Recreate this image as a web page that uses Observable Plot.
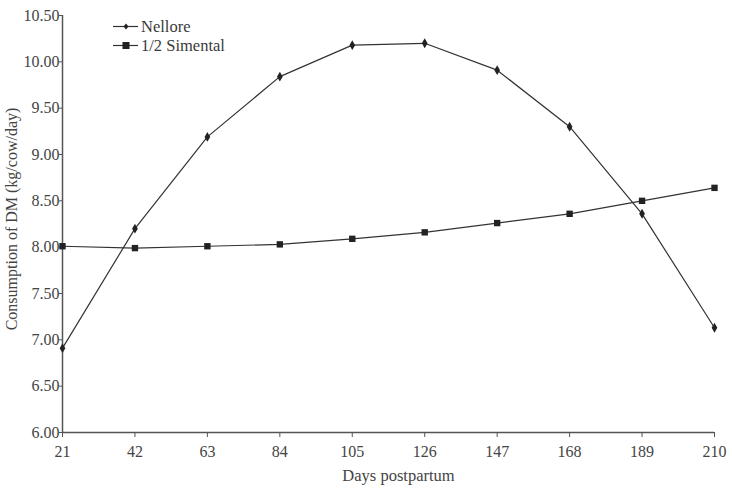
<!DOCTYPE html>
<html>
<head>
<meta charset="utf-8">
<script src="https://cdn.jsdelivr.net/npm/d3@7"></script>
<script src="https://cdn.jsdelivr.net/npm/@observablehq/plot@0.6"></script>
<style>
  html, body { margin: 0; padding: 0; background: #fff; }
  #wrap { position: relative; width: 732px; height: 496px; }
  #legend { position: absolute; left: 113px; top: 17px; font-family: "Liberation Serif", "Times New Roman", serif; font-size: 16.5px; color: #3a3a3a; }
  #legend div { display: flex; align-items: center; height: 19px; }
  #legend svg { margin-right: 3px; }
</style>
</head>
<body>
<div id="wrap"></div>
<script>
const days = [21, 42, 63, 84, 105, 126, 147, 168, 189, 210];
const nellore = [6.91, 8.20, 9.19, 9.84, 10.18, 10.20, 9.91, 9.30, 8.36, 7.13];
const simental = [8.01, 7.99, 8.01, 8.03, 8.09, 8.16, 8.26, 8.36, 8.50, 8.64];
const seriesNames = ["Nellore", "1/2 Simental"];
const yTicks = [6.0, 6.5, 7.0, 7.5, 8.0, 8.5, 9.0, 9.5, 10.0, 10.5];
const xLabel = "Days postpartum";
const yLabel = "Consumption of DM (kg/cow/day)";

const rows = [];
days.forEach((d, i) => {
  rows.push({day: d, value: nellore[i], series: seriesNames[0]});
  rows.push({day: d, value: simental[i], series: seriesNames[1]});
});
const nRows = rows.filter(r => r.series === seriesNames[0]);
const sRows = rows.filter(r => r.series === seriesNames[1]);

const ink = "#333";
const txt = "#444";
const chart = Plot.plot({
  width: 732,
  height: 496,
  marginLeft: 62,
  marginRight: 18,
  marginTop: 15,
  marginBottom: 64,
  style: {fontFamily: "'Liberation Serif', 'Times New Roman', serif", fontSize: "16px", color: txt, background: "#fff"},
  x: {domain: [21, 210], ticks: days, tickFormat: d => String(d), label: null},
  y: {domain: [6, 10.5], ticks: yTicks, tickFormat: d => d.toFixed(2), label: null},
  marks: [
    Plot.axisX({ticks: days, tickFormat: d => String(d), tickSize: 5, tickPadding: 8, fontSize: 16, stroke: "#555", fill: txt, label: null}),
    Plot.axisY({ticks: yTicks, tickFormat: d => d.toFixed(2), tickSize: 3, tickPadding: 0, fontSize: 16, stroke: "#555", fill: txt, label: null}),
    Plot.text([xLabel], {text: d => d, frameAnchor: "bottom", dy: 48, dx: 10, fontSize: 16.5, fill: txt}),
    Plot.text([yLabel], {text: d => d, frameAnchor: "left", textAnchor: "middle", rotate: -90, dx: -51, dy: -5, fontSize: 16, fill: txt, style: {letterSpacing: "1px"}}),
    Plot.ruleX([21], {stroke: "#555", strokeWidth: 1.5}),
    Plot.ruleY([6], {stroke: "#555", strokeWidth: 1.5}),
    Plot.line(nRows, {x: "day", y: "value", stroke: ink, strokeWidth: 1.2}),
    Plot.line(sRows, {x: "day", y: "value", stroke: ink, strokeWidth: 1.2}),
    Plot.dot(nRows, {x: "day", y: "value", symbol: "diamond", r: 3, fill: "#222", stroke: "none"}),
    Plot.dot(sRows, {x: "day", y: "value", symbol: "square", r: 3.6, fill: "#222", stroke: "none"})
  ]
});
const wrap = document.getElementById("wrap");
wrap.appendChild(chart);

const legend = document.createElement("div");
legend.id = "legend";
const shapes = {
  [seriesNames[0]]: '<path d="M13,6.5 L15.5,9.5 L13,12.5 L10.5,9.5 Z" fill="#222"/>',
  [seriesNames[1]]: '<rect x="9.5" y="6" width="7" height="7" fill="#222"/>'
};
seriesNames.forEach(name => {
  const row = document.createElement("div");
  row.innerHTML = `<svg width="25" height="19"><line x1="0" x2="25" y1="9.5" y2="9.5" stroke="${ink}" stroke-width="1.2"/>${shapes[name]}</svg><span>${name}</span>`;
  legend.appendChild(row);
});
wrap.appendChild(legend);
</script>
</body>
</html>
